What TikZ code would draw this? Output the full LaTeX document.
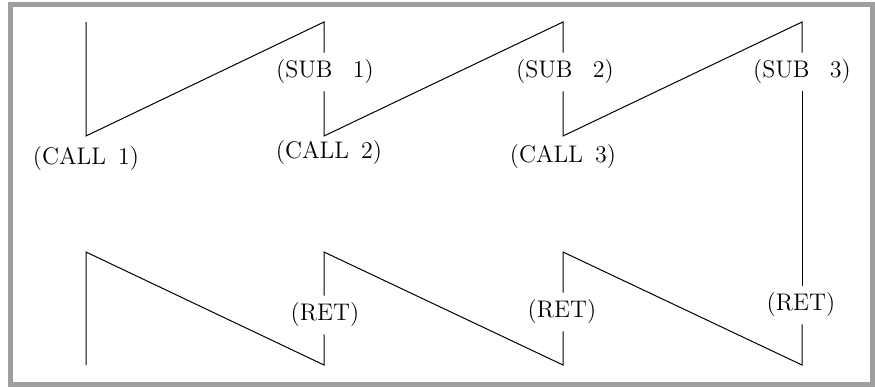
\documentclass[tikz,border=0pt]{standalone}
\usetikzlibrary{positioning}

\begin{document}
\begin{tikzpicture}[
  x=0.5pt, y=-0.5pt,
  tag/.style={inner sep=3.5pt, font=\fontsize{12}{14}\selectfont},
  wire/.style={line width=0.5pt, line join=miter},
  frame/.style={line width=2.5pt, draw=black!38}
]
\useasboundingbox (0,0) rectangle (875,387);
\draw[frame] (10.5,4.5) rectangle (872.5,384.5);

% call chain
\coordinate (c1top) at (86,22);
\coordinate (c1bot) at (86,136);
\coordinate (s1top) at (324,22);
\coordinate (s1bot) at (324,136);
\coordinate (s2top) at (563,22);
\coordinate (s2bot) at (563,136);
\coordinate (s3top) at (802,22);
\node[tag] (call1) at (86,159) {(CALL\hspace{0.5em}1)};
\node[tag] (call2) at (329,153) {(CALL\hspace{0.5em}2)};
\node[tag] (call3) at (563,157) {(CALL\hspace{0.5em}3)};
\node[tag] (sub1) at (325,72) {(SUB\hspace{0.85em}1)};
\node[tag] (sub2) at (565,72) {(SUB\hspace{0.85em}2)};
\node[tag] (sub3) at (802,72) {(SUB\hspace{0.85em}3)};

% return chain
\coordinate (r1top) at (86,252);
\coordinate (r1bot) at (86,365);
\coordinate (r2top) at (324,252);
\coordinate (r2bot) at (324,365);
\coordinate (r3top) at (563,252);
\coordinate (r3bot) at (563,365);
\coordinate (r4bot) at (802,365);
\node[tag] (ret1) at (325,315) {(RET)};
\node[tag] (ret2) at (562,312) {(RET)};
\node[tag] (ret3) at (801,305) {(RET)};

\draw[wire] (c1top) -- (c1bot) -- (s1top) -- (s1top |- sub1.north);
\draw[wire] (s1top |- sub1.south) -- (s1bot) -- (s2top) -- (s2top |- sub2.north);
\draw[wire] (s2top |- sub2.south) -- (s2bot) -- (s3top) -- (s3top |- sub3.north);
\draw[wire] (s3top |- sub3.south) -- (s3top |- ret3.north);
\draw[wire] (r4bot |- ret3.south) -- (r4bot) -- (r3top) -- (r3top |- ret2.north);
\draw[wire] (r3bot |- ret2.south) -- (r3bot) -- (r2top) -- (r2top |- ret1.north);
\draw[wire] (r2bot |- ret1.south) -- (r2bot) -- (r1top) -- (r1bot);
\end{tikzpicture}
\end{document}
